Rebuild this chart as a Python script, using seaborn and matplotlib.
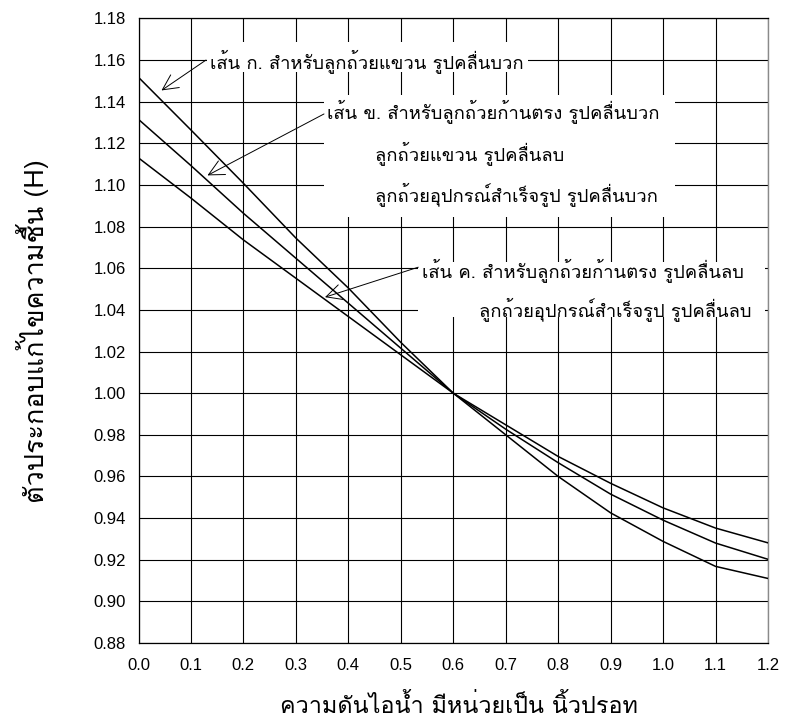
import matplotlib
matplotlib.use("Agg")
import matplotlib.pyplot as plt
import numpy as np
import pandas as pd
import seaborn as sns
from matplotlib import font_manager
from matplotlib.ft2font import FT2Font
from matplotlib.patches import Rectangle

# ---------------- data ----------------
pressure = [0.0, 0.1, 0.2, 0.3, 0.4, 0.5, 0.6, 0.7, 0.8, 0.9, 1.0, 1.1, 1.2]
curve_a = [1.1517, 1.1264, 1.1008, 1.0745, 1.0505, 1.0244, 1.0000,
           0.9800, 0.9600, 0.9425, 0.9288, 0.9168, 0.9110]
curve_b = [1.1315, 1.1093, 1.0864, 1.0648, 1.0432, 1.0216, 1.0000,
           0.9827, 0.9666, 0.9515, 0.9390, 0.9280, 0.9202]
curve_c = [1.1130, 1.0937, 1.0736, 1.0552, 1.0368, 1.0184, 1.0000,
           0.9848, 0.9696, 0.9567, 0.9449, 0.9352, 0.9281]
x_ticks = [0.0, 0.1, 0.2, 0.3, 0.4, 0.5, 0.6, 0.7, 0.8, 0.9, 1.0, 1.1, 1.2]
y_ticks = [0.88, 0.90, 0.92, 0.94, 0.96, 0.98, 1.00, 1.02, 1.04, 1.06,
           1.08, 1.10, 1.12, 1.14, 1.16, 1.18]
x_label = "ความดันไอน้ำ มีหน่วยเป็น นิ้วปรอท"
y_label = "ตัวประกอบแก้ไขความชื้น (H)"
label_a = "เส้น ก. สำหรับลูกถ้วยแขวน รูปคลื่นบวก"
label_b = ["เส้น ข. สำหรับลูกถ้วยก้านตรง รูปคลื่นบวก",
           "ลูกถ้วยแขวน รูปคลื่นลบ",
           "ลูกถ้วยอุปกรณ์สำเร็จรูป รูปคลื่นบวก"]
label_c = ["เส้น ค. สำหรับลูกถ้วยก้านตรง รูปคลื่นลบ",
           "ลูกถ้วยอุปกรณ์สำเร็จรูป รูปคลื่นลบ"]

df = pd.DataFrame({
    "x": pressure * 3,
    "H": curve_a + curve_b + curve_c,
    "curve": ["A"] * len(pressure) + ["B"] * len(pressure) + ["C"] * len(pressure),
})

# ---------------- fonts ----------------
sns.set_theme(style="white")


def thai_families():
    names = []
    for f in font_manager.fontManager.ttflist:
        try:
            cmap = FT2Font(f.fname).get_charmap()
        except Exception:
            continue
        if all(c in cmap for c in (0x0E01, 0x0E2A, 0x0E49, 0x0E33)):
            if f.name not in names:
                names.append(f.name)
    return names


thai = thai_families()
preferred = [n for n in ["Loma", "Waree", "Garuda", "Umpush", "Anuphan"] if n in thai]
thai_fam = preferred + [n for n in thai if n not in preferred] + ["DejaVu Sans"]
plt.rcParams["font.family"] = ["Liberation Sans", "DejaVu Sans"]

# ---------------- figure ----------------
W, H = 786, 726
fig = plt.figure(figsize=(W / 100, H / 100), dpi=100)
L, R, T, B = 138.5, 768.0, 18.4, 643.0
ax = fig.add_axes([L / W, 1 - B / H, (R - L) / W, (B - T) / H])

sns.lineplot(data=df, x="x", y="H", hue="curve", units="curve",
             estimator=None, palette=["black"] * 3, linewidth=1.1,
             legend=False, ax=ax, zorder=3)

ax.set_xlim(0, 1.2)
ax.set_ylim(0.88, 1.18)
ax.set_xticks(x_ticks)
ax.set_xticklabels([f"{v:.1f}" for v in x_ticks])
ax.set_yticks(y_ticks)
ax.set_yticklabels([f"{v:.2f}" for v in y_ticks])
ax.set_axisbelow(True)
ax.grid(True, color="black", linewidth=0.8)
ax.tick_params(axis="both", direction="out", length=5, width=0.8,
               color="black", labelsize=12, labelcolor="black", pad=4)
ax.tick_params(axis="x", pad=6)
for s in ["left", "bottom", "top"]:
    ax.spines[s].set_color("black")
    ax.spines[s].set_linewidth(0.9)
ax.spines["right"].set_color("#8a8a8a")
ax.spines["right"].set_linewidth(1.0)

# white text boxes over the grid
boxes = [((0.1306, 1.1544), 0.7426 - 0.1306, 1.1688 - 1.1544),
         ((0.3536, 1.0847), 1.0225 - 0.3536, 1.1432 - 1.0847),
         ((0.5327, 1.0368), 1.1940 - 0.5327, 1.0632 - 1.0368)]
for (x0, y0), w, h in boxes:
    ax.add_patch(Rectangle((x0, y0), w, h, facecolor="white",
                           edgecolor="none", zorder=2))

renderer = fig.canvas.get_renderer()


def fit_size(text, target_px, base=12):
    t = fig.text(0, 0, text, fontsize=base, family=thai_fam)
    w = t.get_window_extent(renderer).width
    t.remove()
    return base * target_px / w if w > 0 else base


ann_size = fit_size(label_a, 314)
txt_kw = dict(fontsize=ann_size, family=thai_fam, va="baseline", ha="left",
              zorder=5, color="black")

ax.text(0.1363, 1.1562, label_a, **txt_kw)
ax.text(0.3593, 1.1322, label_b[0], **txt_kw)
ax.text(0.4508, 1.1120, label_b[1], **txt_kw)
ax.text(0.4508, 1.0923, label_b[2], **txt_kw)
ax.text(0.5403, 1.0559, label_c[0], **txt_kw)
ax.text(0.6490, 1.0371, label_c[1], **txt_kw)

arrow_kw = dict(arrowstyle="->,head_length=1.1,head_width=0.55",
                color="black", lw=0.7, shrinkA=0, shrinkB=0,
                mutation_scale=10)
ax.annotate("", xy=(0.0438, 1.1454), xytext=(0.1287, 1.1600),
            arrowprops=arrow_kw, zorder=6)
ax.annotate("", xy=(0.1315, 1.1046), xytext=(0.3536, 1.1341),
            arrowprops=arrow_kw, zorder=6)
ax.annotate("", xy=(0.3555, 1.0461), xytext=(0.5333, 1.0605),
            arrowprops=arrow_kw, zorder=6)

# axis labels
xl_size = fit_size(x_label, 358)
yl_size = fit_size(y_label, 345)
ax.set_xlabel(x_label, fontsize=xl_size, family=thai_fam, color="black")
ax.xaxis.label.set_va("baseline")
ax.xaxis.set_label_coords((459 - L) / (R - L), -(713 - B) / (B - T))
ax.set_ylabel(y_label, fontsize=yl_size, family=thai_fam, color="black")
ax.yaxis.label.set_va("center")
ax.yaxis.set_label_coords((33 - L) / (R - L), 0.5)

fig.savefig("out.png", dpi=100, facecolor="white")
